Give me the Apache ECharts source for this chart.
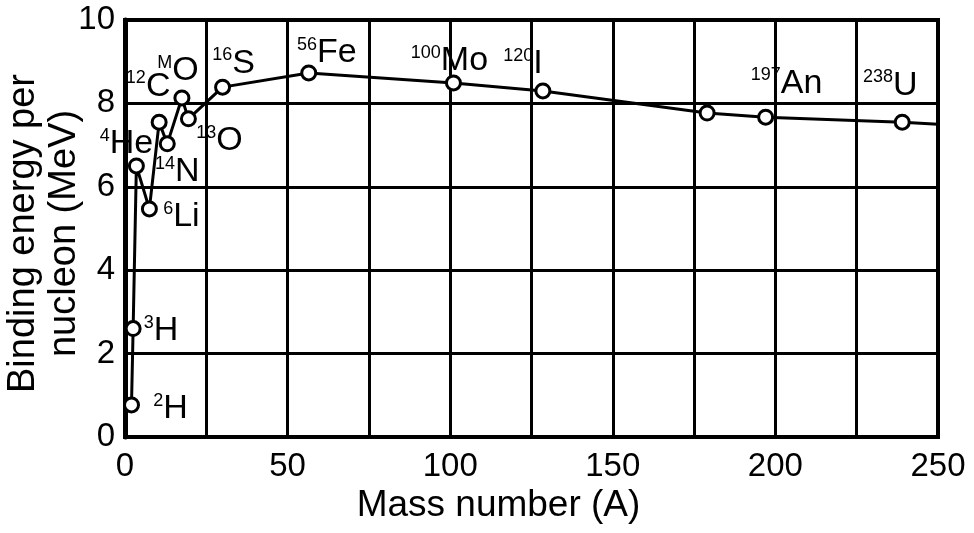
<!DOCTYPE html>
<html>
<head>
<meta charset="utf-8">
<title>Binding energy per nucleon</title>
<script src="https://cdn.jsdelivr.net/npm/echarts@6/dist/echarts.min.js"></script>
<style>
  html, body { margin: 0; padding: 0; background: #fff; }
  #main { width: 974px; height: 533px; }
</style>
</head>
<body>
<div id="main"></div>
<script>
// values
const massNumber = [2, 2.5, 3.5, 7.5, 10.5, 13, 17.5, 19.5, 30, 56.5, 101, 128.5, 179, 197, 239, 250];
const bindingEnergy = [0.77, 2.6, 6.5, 5.47, 7.55, 7.03, 8.13, 7.63, 8.39, 8.73, 8.49, 8.3, 7.77, 7.67, 7.55, 7.5];
// isotope labels (superscript + symbol), '' = no label
const isoMass = ['2', '3', '4', '6', '12', '14', 'M', '13', '16', '56', '100', '120', '', '197', '238', ''];
const isoSymbol = ['H', 'H', 'He', 'Li', 'C', 'N', 'O', 'O', 'S', 'Fe', 'Mo', 'I', '', 'An', 'U', ''];
const xTicks = [0, 50, 100, 150, 200, 250];
const yTicks = [0, 2, 4, 6, 8, 10];

// label placement (pixels from the point)
const labelOffset = [[39, 4], [28, 2], [-10, -22], [32, 8], [-11, -36], [10, 28], [-4, -27], [31, 22],
  [11, -24], [18, -20], [-4, -22], [-20, -27], null, [21, -34], [-12, -37], null];

const FONT = '"Liberation Sans", Arial, sans-serif';
let chart = null;

function buildData() {
  return massNumber.map((a, i) => {
    const item = { value: [a, bindingEnergy[i]] };
    if (i === massNumber.length - 1) {
      item.symbol = 'none'; // line runs on to the frame
    }
    if (isoSymbol[i]) {
      item.label = {
        show: true,
        position: 'inside',
        offset: labelOffset[i],
        formatter: '{s|' + isoMass[i] + '}{e|' + isoSymbol[i] + '}'
      };
    }
    return item;
  });
}

function initChart() {
  chart = echarts.init(document.getElementById('main'), null, { renderer: 'canvas' });
  const option = {
    animation: false,
    backgroundColor: '#fff',
    textStyle: { fontFamily: FONT, color: '#000' },
    grid: {
      left: 125, right: 36, top: 20, bottom: 96,
      outerBoundsMode: 'none',
      containLabel: false,
      show: true, borderColor: '#000', borderWidth: 4
    },
    xAxis: {
      type: 'value',
      min: 0, max: 250, interval: 25,
      name: 'Mass number (A)',
      nameLocation: 'middle',
      nameGap: 50,
      nameMoveOverlap: false,
      nameTextStyle: { fontSize: 37, color: '#000', fontFamily: FONT, padding: [0, 66, 0, 0] },
      axisLine: { lineStyle: { color: '#000', width: 4 } },
      axisTick: { show: false },
      axisLabel: {
        margin: 13, fontSize: 33, color: '#000', fontFamily: FONT,
        formatter: v => (xTicks.indexOf(v) >= 0 ? String(v) : '')
      },
      splitLine: { show: true, lineStyle: { color: '#000', width: 3 } }
    },
    yAxis: {
      type: 'value',
      min: 0, max: 10, interval: 2,
      name: 'Binding energy per\nnucleon (MeV)',
      nameLocation: 'middle',
      nameRotate: 90,
      nameGap: 40,
      nameMoveOverlap: false,
      nameTextStyle: { fontSize: 38, lineHeight: 41, color: '#000', fontFamily: FONT, padding: [0, 10, 0, 0] },
      axisLine: { show: true, lineStyle: { color: '#000', width: 5 } },
      axisTick: { show: false },
      axisLabel: {
        margin: 10, fontSize: 33, color: '#000', fontFamily: FONT,
        formatter: v => (yTicks.indexOf(v) >= 0 ? String(v) : '')
      },
      splitLine: { show: true, lineStyle: { color: '#000', width: 3 } }
    },
    series: [{
      type: 'line',
      data: buildData(),
      symbol: 'circle',
      symbolSize: 14,
      itemStyle: { color: '#fff', borderColor: '#000', borderWidth: 3 },
      lineStyle: { color: '#000', width: 3 },
      label: {
        color: '#000',
        fontFamily: FONT,
        rich: {
          s: { fontSize: 18, lineHeight: 18, verticalAlign: 'top', color: '#000', fontFamily: FONT },
          e: { fontSize: 34, lineHeight: 34, verticalAlign: 'bottom', color: '#000', fontFamily: FONT }
        }
      },
      z: 3
    }]
  };
  chart.setOption(option);
  return chart;
}

initChart();
</script>
</body>
</html>
